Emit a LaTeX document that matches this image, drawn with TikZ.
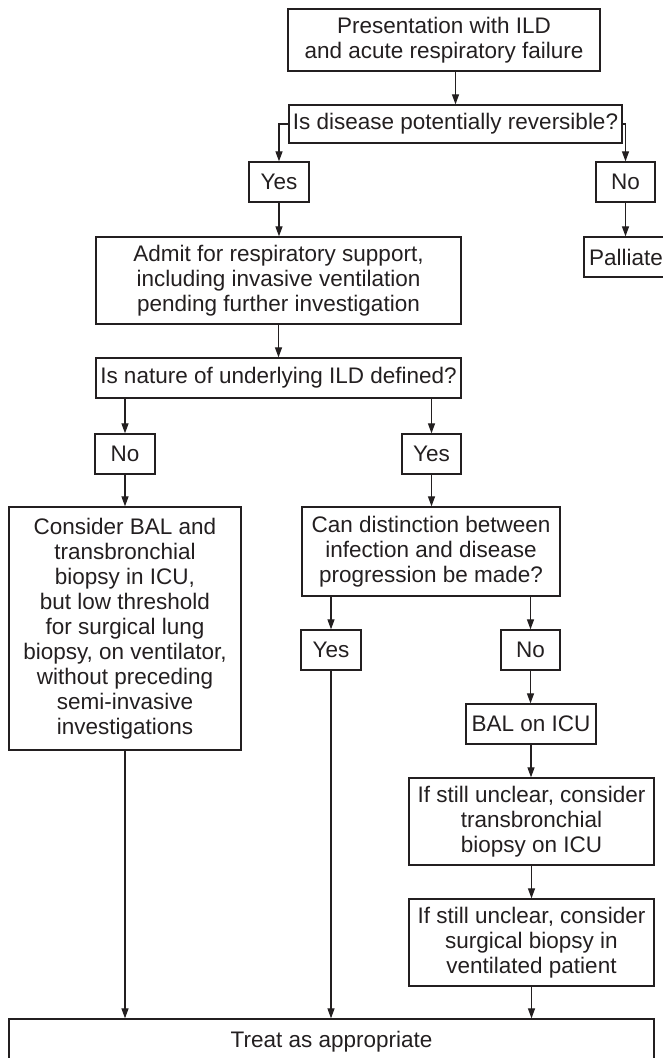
\documentclass[tikz,border=0pt]{standalone}
\usepackage{fontspec}
\setmainfont{Liberation Sans}
\usetikzlibrary{arrows.meta}
\definecolor{ink}{RGB}{35,31,32}
\begin{document}
\begin{tikzpicture}[x=1pt,y=-1pt,
  fbox/.style={draw=ink, line width=1.3pt, inner sep=0pt, align=center,
    text=ink, font=\fontsize{22.5}{25}\selectfont},
  arr/.style={draw=ink, line width=1.2pt, -{Triangle[length=10pt,width=7pt]}}]
\useasboundingbox (0,0) rectangle (662,1058);
\node[fbox, minimum width=312pt, minimum height=62pt] (top) at (444,40)
  {Presentation with ILD\\and acute respiratory failure};
\node[fbox, minimum width=333pt, minimum height=38pt] (q1) at (455.5,124)
  {Is disease potentially reversible?};
\node[fbox, minimum width=60pt, minimum height=40pt] (yes1) at (279,182) {Yes};
\node[fbox, minimum width=59pt, minimum height=40pt] (no1) at (625.5,182) {No};
\node[fbox, minimum width=365pt, minimum height=87pt] (admit) at (278.5,280.5)
  {Admit for respiratory support,\\including invasive ventilation\\pending further investigation};
\node[fbox, minimum width=84pt, minimum height=40pt] (pall) at (626,257) {Palliate};
\node[fbox, minimum width=365pt, minimum height=40pt] (q2) at (278.5,378)
  {Is nature of underlying ILD defined?};
\node[fbox, minimum width=60pt, minimum height=40pt] (no2) at (125,454) {No};
\node[fbox, minimum width=59pt, minimum height=40pt] (yes2) at (431.5,454) {Yes};
\node[fbox, minimum width=232pt, minimum height=243pt] (cons) at (125,628.5)
  {Consider BAL and\\transbronchial\\biopsy in ICU,\\but low threshold\\for surgical lung\\biopsy, on ventilator,\\without preceding\\semi-invasive\\investigations};
\node[fbox, minimum width=258pt, minimum height=89pt] (can) at (431,551.5)
  {Can distinction between\\infection and disease\\progression be made?};
\node[fbox, minimum width=60pt, minimum height=40pt] (yes3) at (331,650) {Yes};
\node[fbox, minimum width=59pt, minimum height=40pt] (no3) at (530.5,650) {No};
\node[fbox, minimum width=130pt, minimum height=40pt] (bal) at (531,724) {BAL on ICU};
\node[fbox, minimum width=245pt, minimum height=87pt] (unc1) at (531.5,821.5)
  {If still unclear, consider\\transbronchial\\biopsy on ICU};
\node[fbox, minimum width=245pt, minimum height=87pt] (unc2) at (531.5,942.5)
  {If still unclear, consider\\surgical biopsy in\\ventilated patient};
\node[fbox, minimum width=645pt, minimum height=46pt] (treat) at (331.5,1042)
  {Treat as appropriate};
% connectors
\draw[arr] (q1.north |- top.south) -- (q1.north);
\draw[arr] (q1.west) -| (yes1.north);
\draw[arr] (q1.east) -| (no1.north);
\draw[arr] (yes1.south) -- (yes1.south |- admit.north);
\draw[arr] (no1.south) -- (no1.south |- pall.north);
\draw[arr] (admit.south) -- (q2.north);
\draw[arr] (no2.north |- q2.south) -- (no2.north);
\draw[arr] (yes2.north |- q2.south) -- (yes2.north);
\draw[arr] (no2.south) -- (cons.north);
\draw[arr] (yes2.south) -- (yes2.south |- can.north);
\draw[arr] (yes3.north |- can.south) -- (yes3.north);
\draw[arr] (no3.north |- can.south) -- (no3.north);
\draw[arr] (no3.south) -- (no3.south |- bal.north);
\draw[arr] (bal.south) -- (bal.south |- unc1.north);
\draw[arr] (unc1.south) -- (unc2.north);
\draw[arr] (cons.south) -- (cons.south |- treat.north);
\draw[arr] (yes3.south) -- (yes3.south |- treat.north);
\draw[arr] (unc2.south) -- (unc2.south |- treat.north);
\end{tikzpicture}
\end{document}
